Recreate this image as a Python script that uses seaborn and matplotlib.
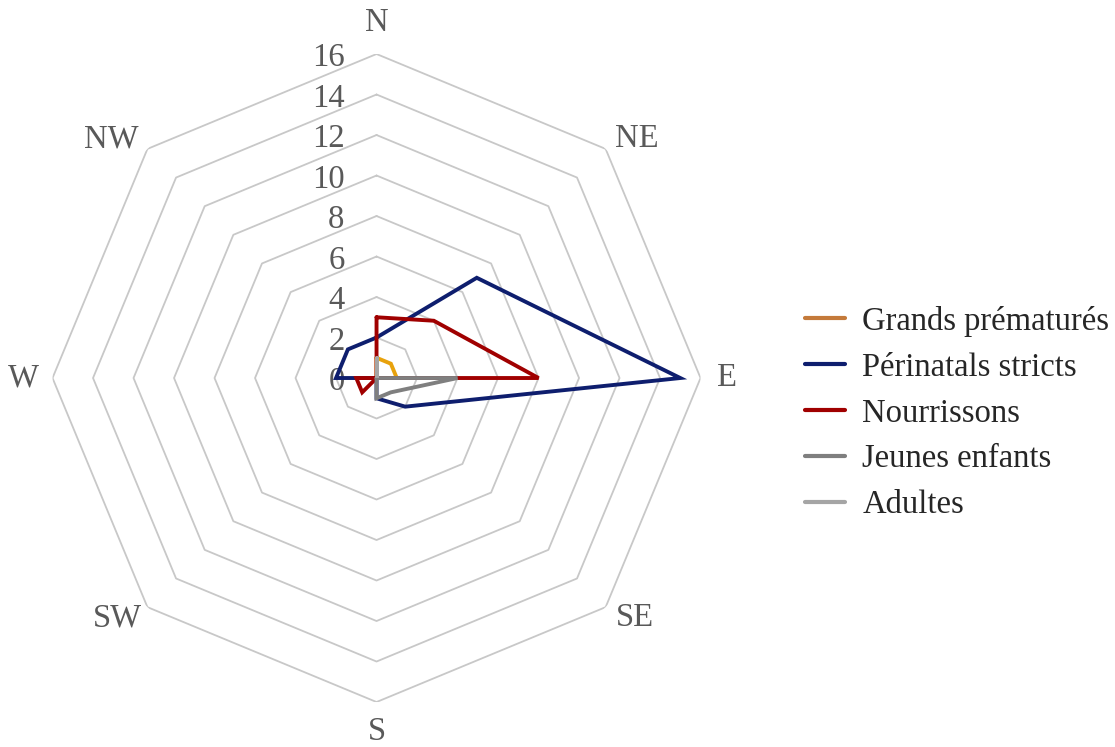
import numpy as np
import matplotlib.pyplot as plt
import seaborn as sns
from matplotlib.lines import Line2D

sns.set_theme(style="white")
plt.rcParams['font.family'] = ['Liberation Serif', 'DejaVu Serif']

# Directions and values
directions = ['N', 'NE', 'E', 'SE', 'S', 'SW', 'W', 'NW']
series_names = ['Grands prématurés', 'Périnatals stricts', 'Nourrissons',
                'Jeunes enfants', 'Adultes']
grands_prematures = [1, 1, 1, 0, 0, 0, 0, 0]
perinatals_stricts = [2, 7, 15, 2, 1, 0, 2, 2]
nourrissons = [3, 4, 8, 0, 0, 1, 1, 0]
jeunes_enfants = [0, 0, 4, 1, 1, 0, 0, 0]
adultes = [1, 0, 0, 0, 0, 0, 0, 0]
grid_levels = [2, 4, 6, 8, 10, 12, 14, 16]
tick_labels = [0, 2, 4, 6, 8, 10, 12, 14, 16]

line_colors = ['#E8A20C', '#0E1E6E', '#A00000', '#7F7F7F', '#A5A5A5']
legend_colors = ['#C47A3A', '#0E1E6E', '#A00000', '#7F7F7F', '#A5A5A5']
text_grey = '#595959'
fs = 23.5

# pixel offsets of the direction labels from the outer grid vertices
label_offsets = [(0, 31), (31, 10), (26, 0), (29, -11),
                 (0, -30), (-30, -11), (-29, 0), (-36, 10)]

n_dir = len(directions)
angles = np.linspace(0, 2 * np.pi, n_dir, endpoint=False)
angles_closed = np.append(angles, angles[0])

fig = plt.figure(figsize=(11.15, 7.47), dpi=100)
ax = fig.add_axes([0.0471, 0.0602, 0.5812, 0.8675], projection='polar')
ax.set_theta_zero_location('N')
ax.set_theta_direction(-1)
ax.set_ylim(0, 16)
ax.grid(False)
ax.spines['polar'].set_visible(False)
ax.set_xticks([])
ax.set_yticks([])

# octagonal gridlines
for lvl in grid_levels:
    ax.plot(angles_closed, [lvl] * (n_dir + 1), color='#C8C8C8', lw=1.3, zorder=1)

all_series = [grands_prematures, perinatals_stricts, nourrissons,
              jeunes_enfants, adultes]
for i, (name, vals, col) in enumerate(zip(series_names, all_series, line_colors)):
    v = np.append(vals, vals[0])
    ax.plot(angles_closed, v, color=col, lw=2.8, zorder=3 + i,
            solid_joinstyle='miter')

for t in tick_labels:
    ax.annotate(str(t), xy=(0, t), xytext=(-32, -4), textcoords='offset pixels',
                ha='right', va='center', fontsize=fs, color=text_grey,
                annotation_clip=False)

for ang, lab, off in zip(angles, directions, label_offsets):
    ax.annotate(lab, xy=(ang, 16), xytext=off, textcoords='offset pixels',
                ha='center', va='center', fontsize=fs, color=text_grey,
                annotation_clip=False)

handles = [Line2D([0], [0], color=c, lw=3) for c in legend_colors]
fig.legend(handles, series_names, loc='center left',
           bbox_to_anchor=(0.722, 0.447), frameon=False, fontsize=fs,
           handlelength=1.23, handletextpad=0.52, labelspacing=0.47,
           borderaxespad=0, borderpad=0)

fig.savefig('out.png', dpi=100, facecolor='white')
